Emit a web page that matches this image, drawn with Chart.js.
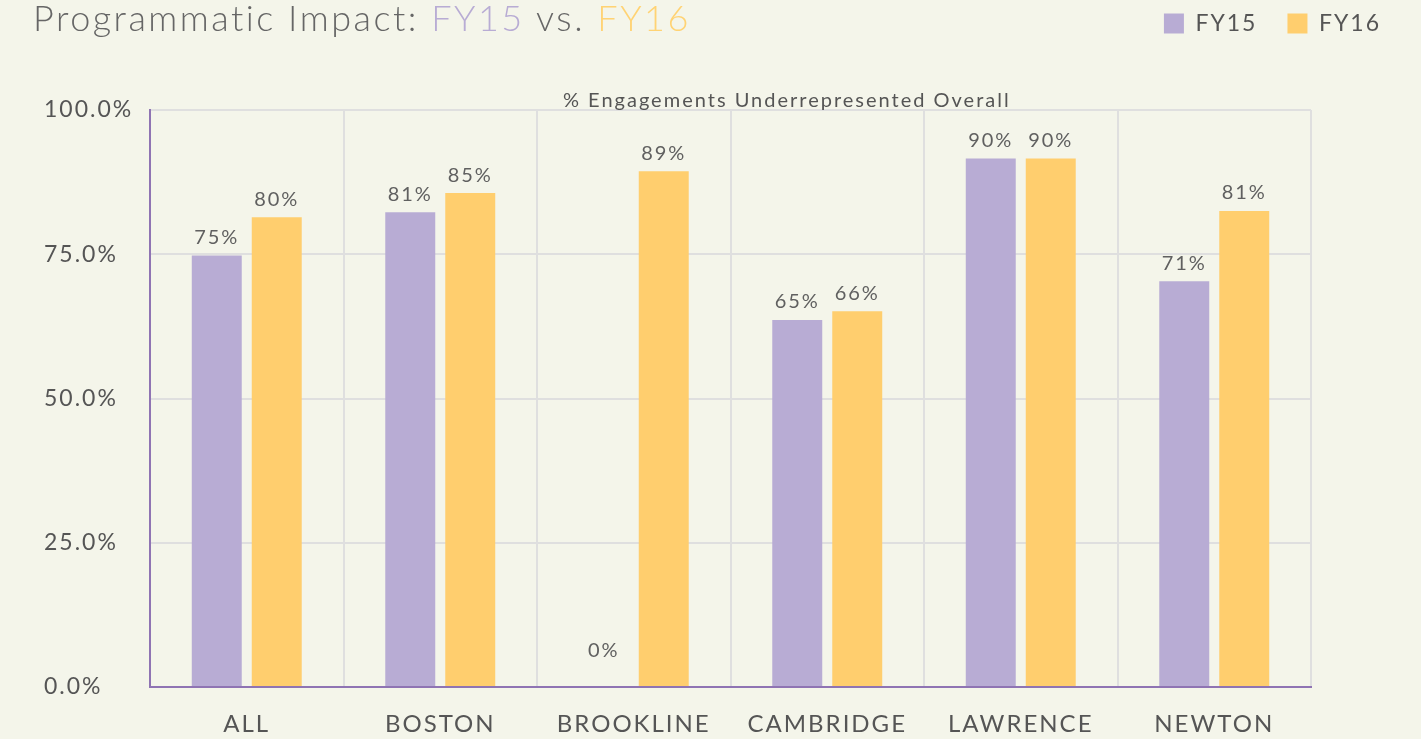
<!DOCTYPE html>
<html>
<head>
<meta charset="utf-8">
<title>Programmatic Impact: FY15 vs. FY16</title>
<script src="https://cdn.jsdelivr.net/npm/chart.js@4/dist/chart.umd.min.js"></script>
<style>
  html, body { margin: 0; padding: 0; background: #f4f5ea; overflow: hidden; }
  #wrap { position: relative; width: 1421px; height: 739px; }
  #title {
    position: absolute; left: 33px; top: -5px;
    font-family: Lato, sans-serif; font-weight: 300; font-size: 36px;
    letter-spacing: 2.5px;
    line-height: 44px; color: #666; white-space: nowrap;
  }
  #title .fy15 { color: #b8acd4; }
  #title .fy16 { color: #ffd374; }
</style>
</head>
<body>
<div id="wrap">
  <canvas id="chart" width="1421" height="739"></canvas>
  <div id="title">Programmatic Impact: <span class="fy15">FY15</span> vs. <span class="fy16">FY16</span></div>
</div>
<script>
// --- chart data ---
const categories = ['ALL', 'BOSTON', 'BROOKLINE', 'CAMBRIDGE', 'LAWRENCE', 'NEWTON'];
const fy15Values = [74.8, 82.3, 0, 63.6, 91.6, 70.3];
const fy16Values = [81.4, 85.6, 89.4, 65.1, 91.6, 82.5];
// printed value labels (as shown on the bars)
const fy15Labels = ['75%', '81%', '0%', '65%', '90%', '71%'];
const fy16Labels = ['80%', '85%', '89%', '66%', '90%', '81%'];
const yTicks = [0, 25, 50, 75, 100];
const subtitle = '% Engagements Underrepresented Overall';

const FONT = 'Lato, sans-serif';
const TEXT = '#555';
const GRID = '#dfdfdf';
const AXIS = '#8f74b3';

// the original typeface is wide, so space the letters out a little
const spacing = {
    id: 'spacing',
    beforeUpdate(chart) { chart.ctx.letterSpacing = '2px'; },
    beforeDraw(chart) { chart.ctx.letterSpacing = '2px'; }
};

// value labels above each bar
const barLabels = {
    id: 'barLabels',
    afterDatasetsDraw(chart) {
        const ctx = chart.ctx;
        ctx.save();
        ctx.font = `20px ${FONT}`;
        ctx.fillStyle = '#606060';
        ctx.textAlign = 'center';
        ctx.textBaseline = 'middle';
        chart.data.datasets.forEach((ds, di) => {
            chart.getDatasetMeta(di).data.forEach((bar, i) => {
                const y = Math.min(bar.y - 18, bar.base - 36);
                ctx.fillText(ds.printed[i], bar.x, y);
            });
        });
        ctx.restore();
    }
};

// small axis caption just above the plot area
const captionPlugin = {
    id: 'caption',
    afterDraw(chart) {
        const {ctx, chartArea} = chart;
        ctx.save();
        ctx.font = `20px ${FONT}`;
        ctx.fillStyle = TEXT;
        ctx.textAlign = 'center';
        ctx.textBaseline = 'middle';
        ctx.fillText(subtitle, chartArea.left + chartArea.width * 0.5485, chartArea.top - 9);
        ctx.restore();
    }
};

new Chart(document.getElementById('chart'), {
    type: 'bar',
    data: {
        labels: categories,
        datasets: [
            {
                label: 'FY15',
                data: fy15Values,
                printed: fy15Labels,
                backgroundColor: '#b8acd4',
                categoryPercentage: 0.62,
                barPercentage: 0.833
            },
            {
                label: 'FY16',
                data: fy16Values,
                printed: fy16Labels,
                backgroundColor: '#ffce6e',
                categoryPercentage: 0.62,
                barPercentage: 0.833
            }
        ]
    },
    options: {
        responsive: false,
        animation: false,
        layout: { padding: { top: -18, right: 10, left: 44, bottom: 0 } },
        plugins: {
            legend: {
                position: 'top',
                align: 'end',
                labels: {
                    color: TEXT,
                    font: { family: FONT, size: 23 },
                    boxWidth: 20,
                    boxHeight: 20,
                    padding: 30
                }
            },
            // empty title used as a spacer between legend and plot
            title: {
                display: true,
                text: '',
                weight: 500,
                font: { size: 10 },
                padding: { top: 53, bottom: 0 }
            },
            tooltip: { enabled: false }
        },
        scales: {
            x: {
                grid: { color: GRID, lineWidth: 2, drawTicks: false },
                border: { color: AXIS, width: 2 },
                ticks: {
                    color: TEXT,
                    font: { family: FONT, size: 24 },
                    padding: 23,
                    maxRotation: 0,
                    autoSkip: false
                },
                afterFit(scale) { scale.height = 52; }
            },
            y: {
                min: 0,
                max: 100,
                grid: { color: GRID, lineWidth: 2, drawTicks: false },
                border: { color: AXIS, width: 2 },
                afterBuildTicks(scale) { scale.ticks = yTicks.map(v => ({ value: v })); },
                ticks: {
                    color: TEXT,
                    font: { family: FONT, size: 23 },
                    crossAlign: 'far',
                    callback: v => v.toFixed(1) + '%'
                },
                afterFit(scale) { scale.width = 106; }
            },
            // blank right axis to leave room right of the plot
            pad: {
                position: 'right',
                grid: { display: false, drawTicks: false },
                border: { display: false },
                ticks: { display: false },
                afterFit(scale) { scale.width = 100; }
            }
        }
    },
    plugins: [spacing, barLabels, captionPlugin]
});
</script>
</body>
</html>
